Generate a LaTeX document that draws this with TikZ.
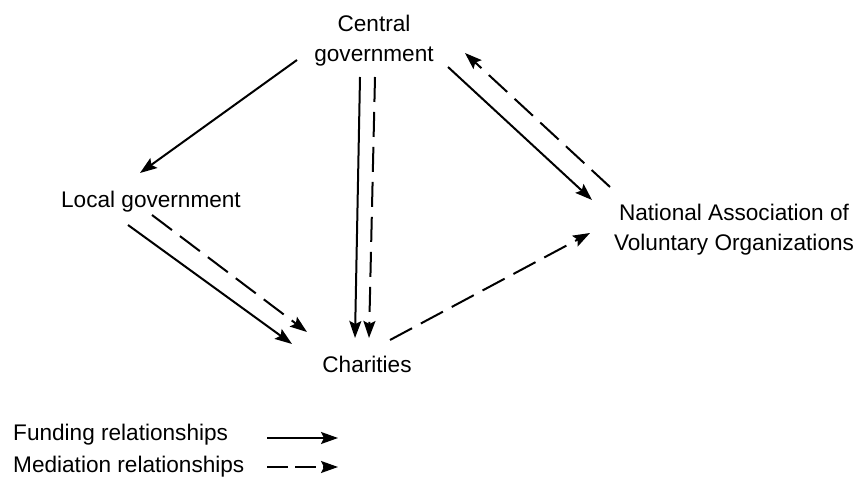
\documentclass[tikz,border=0pt]{standalone}
\usepackage{fontspec}
\setmainfont{Liberation Sans}
\usetikzlibrary{arrows.meta,calc}

\begin{document}
\begin{tikzpicture}[x=1pt,y=-1pt,
  lbl/.style={inner sep=0pt, font=\fontsize{22.6}{30}\selectfont, align=center},
  conn/.style={line width=2pt, -{Stealth[length=17pt,width=12pt,inset=3pt]}},
  fund/.style={conn},
  medi/.style={conn, dash pattern=on 25pt off 10pt},
]
\useasboundingbox (0,0) rectangle (856,478);

% actors
\node[lbl] (cg) at (374,41) {Central\\government};
\node[lbl, anchor=base] (lg) at (151,208) {Local government};
\node[lbl, anchor=base] (ch) at (367,372) {Charities};
\node[lbl] (nv) at (734,230) {National Association of\\Voluntary Organizations};

% key
\node[lbl, anchor=base west] (kf) at (13,440) {Funding relationships};
\node[lbl, anchor=base west] (km) at (13,472) {Mediation relationships};

% funding flows
\draw[fund] ($(cg.center)+(-77,19)$) -- ($(lg.base)+(-11,-35)$);
\draw[fund] ($(cg.center)+(-14,36)$) -- ($(ch.base)+(-12,-34)$);
\draw[fund] ($(cg.center)+(74,26)$) -- ($(nv.center)+(-142,-30)$);
\draw[fund] ($(lg.base)+(-23,17)$) -- ($(ch.base)+(-75,-28)$);

% mediation flows
\draw[medi] ($(cg.center)+(1,36)$) -- ($(ch.base)+(2,-34)$);
\draw[medi] ($(nv.center)+(-124,-43)$) -- ($(cg.center)+(91,12)$);
\draw[medi] ($(lg.base)+(1,7)$) -- ($(ch.base)+(-60,-40)$);
\draw[medi] ($(ch.base)+(23,-32)$) -- ($(nv.center)+(-144,3)$);

% key samples
\draw[fund] ($(kf.base west)+(254,-2)$) -- ($(kf.base west)+(325,-2)$);
\draw[medi, dash pattern=on 21pt off 7pt] ($(km.base west)+(254,-5)$) -- ($(km.base west)+(325,-5)$);
\end{tikzpicture}
\end{document}
